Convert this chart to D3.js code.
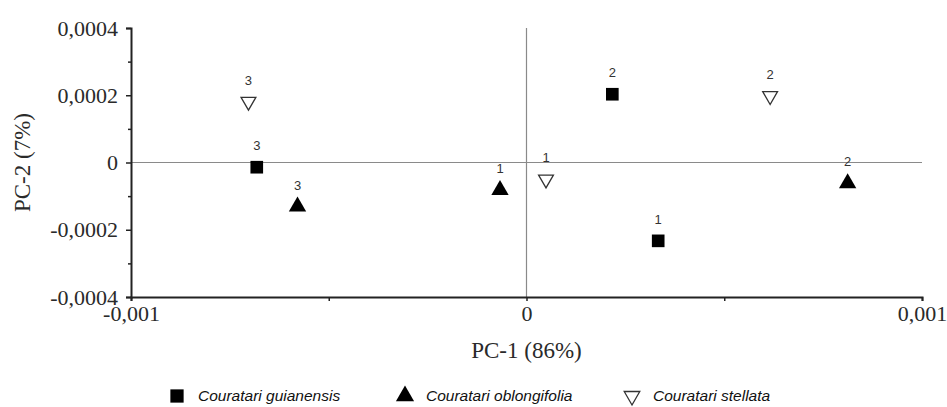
<!DOCTYPE html>
<html>
<head>
<meta charset="utf-8">
<script src="https://cdn.jsdelivr.net/npm/d3@7/dist/d3.min.js"></script>
<style>
  body { margin: 0; background: #fff; }
  svg { display: block; }
</style>
</head>
<body>
<svg id="chart" width="947" height="407"></svg>
<script>
'use strict';

// PCA scores
const species = ['Couratari guianensis', 'Couratari oblongifolia', 'Couratari stellata'];
const sampleLabels = ['1', '2', '3'];
const pc1 = {
  'Couratari guianensis': [0.000333, 0.000217, -0.000682],
  'Couratari oblongifolia': [-0.000067, 0.000812, -0.000579],
  'Couratari stellata': [0.0000493, 0.000616, -0.000703]
};
const pc2 = {
  'Couratari guianensis': [-0.000233, 0.000203, -0.000014],
  'Couratari oblongifolia': [-0.0000818, -0.0000619, -0.000131],
  'Couratari stellata': [-0.00005, 0.000198, 0.000181]
};
const xTicks = [-0.001, 0, 0.001];
const xMinor = [-0.0005, 0.0005];
const yTicks = [-0.0004, -0.0002, 0, 0.0002, 0.0004];
const yMinor = [-0.0003, -0.0001, 0.0001, 0.0003];

const svg = d3.select('#chart');
const x = d3.scaleLinear().domain([-0.001, 0.001]).range([131, 922]);
const y = d3.scaleLinear().domain([-0.0004, 0.0004]).range([297, 28]);

const fmt = v => (v === 0 ? '0' : String(+v.toFixed(4)).replace('.', ','));
const serif = '"Liberation Serif", "Times New Roman", serif';
const sans = '"Liberation Sans", Arial, sans-serif';

// zero lines
svg.append('line')
  .attr('x1', x(-0.001)).attr('x2', x(0.001))
  .attr('y1', y(0)).attr('y2', y(0))
  .attr('stroke', '#8a8a8a').attr('stroke-width', 1.2);
svg.append('line')
  .attr('x1', x(0)).attr('x2', x(0))
  .attr('y1', y(0.0004)).attr('y2', y(-0.0004))
  .attr('stroke', '#8a8a8a').attr('stroke-width', 1.2);

// axes
const yAxis = svg.append('g').attr('transform', `translate(${x(-0.001)},0)`)
  .call(d3.axisLeft(y).tickValues(yTicks).tickFormat(fmt).tickSize(5).tickPadding(8));
const yAxisMinor = svg.append('g').attr('transform', `translate(${x(-0.001)},0)`)
  .call(d3.axisLeft(y).tickValues(yMinor).tickFormat('').tickSize(3));
const xAxis = svg.append('g').attr('transform', `translate(0,${y(-0.0004)})`)
  .call(d3.axisBottom(x).tickValues(xTicks).tickFormat(fmt).tickSize(4).tickPadding(4));
const xAxisMinor = svg.append('g').attr('transform', `translate(0,${y(-0.0004)})`)
  .call(d3.axisBottom(x).tickValues(xMinor).tickFormat('').tickSize(4));

[yAxis, yAxisMinor, xAxis, xAxisMinor].forEach(g => {
  g.attr('font-family', null).attr('font-size', null);
  g.select('.domain').attr('stroke', '#222').attr('stroke-width', 2);
  g.selectAll('.tick line').attr('stroke', '#222').attr('stroke-width', 1.5);
  g.selectAll('.tick text')
    .attr('fill', '#2a2a2a')
    .style('font-family', serif)
    .style('font-size', '22px');
});
yAxisMinor.select('.domain').remove();
xAxisMinor.select('.domain').remove();

// axis titles
svg.append('text')
  .attr('x', x(0)).attr('y', 358)
  .attr('text-anchor', 'middle')
  .attr('fill', '#2a2a2a')
  .style('font-family', serif).style('font-size', '23px')
  .text('PC-1 (86%)');
svg.append('text')
  .attr('transform', `translate(30,${y(0)}) rotate(-90)`)
  .attr('text-anchor', 'middle')
  .attr('fill', '#2a2a2a')
  .style('font-family', serif).style('font-size', '23px')
  .text('PC-2 (7%)');

// markers
const markers = {
  'Couratari guianensis': { type: d3.symbolSquare, size: 160, fill: '#000', stroke: 'none', rot: 0 },
  'Couratari oblongifolia': { type: d3.symbolTriangle, size: 130, fill: '#000', stroke: 'none', rot: 0 },
  'Couratari stellata': { type: d3.symbolTriangle, size: 95, fill: '#fff', stroke: '#333', rot: 180 }
};

species.forEach(sp => {
  const m = markers[sp];
  const pts = pc1[sp].map((v, i) => ({ x: v, y: pc2[sp][i], label: sampleLabels[i] }));
  const g = svg.append('g');
  g.selectAll('path')
    .data(pts)
    .join('path')
    .attr('d', d3.symbol().type(m.type).size(m.size))
    .attr('transform', d => `translate(${x(d.x)},${y(d.y)}) rotate(${m.rot})`)
    .attr('fill', m.fill)
    .attr('stroke', m.stroke)
    .attr('stroke-width', 1.3);
  g.selectAll('text')
    .data(pts)
    .join('text')
    .attr('x', d => x(d.x))
    .attr('y', d => y(d.y) - 17)
    .attr('text-anchor', 'middle')
    .attr('fill', '#333')
    .style('font-family', sans).style('font-size', '13px')
    .text(d => d.label);
});

// legend
const legendX = [177, 405, 632];
const legend = svg.append('g');
species.forEach((sp, i) => {
  const m = markers[sp];
  legend.append('path')
    .attr('d', d3.symbol().type(m.type).size(m.size * 1.1))
    .attr('transform', `translate(${legendX[i]},396) rotate(${m.rot})`)
    .attr('fill', m.fill)
    .attr('stroke', m.stroke)
    .attr('stroke-width', 1.3);
  legend.append('text')
    .attr('x', legendX[i] + 21).attr('y', 397)
    .attr('dominant-baseline', 'middle')
    .attr('fill', '#111')
    .style('font-family', sans).style('font-size', '15.5px').style('font-style', 'italic')
    .text(sp);
});
</script>
</body>
</html>
